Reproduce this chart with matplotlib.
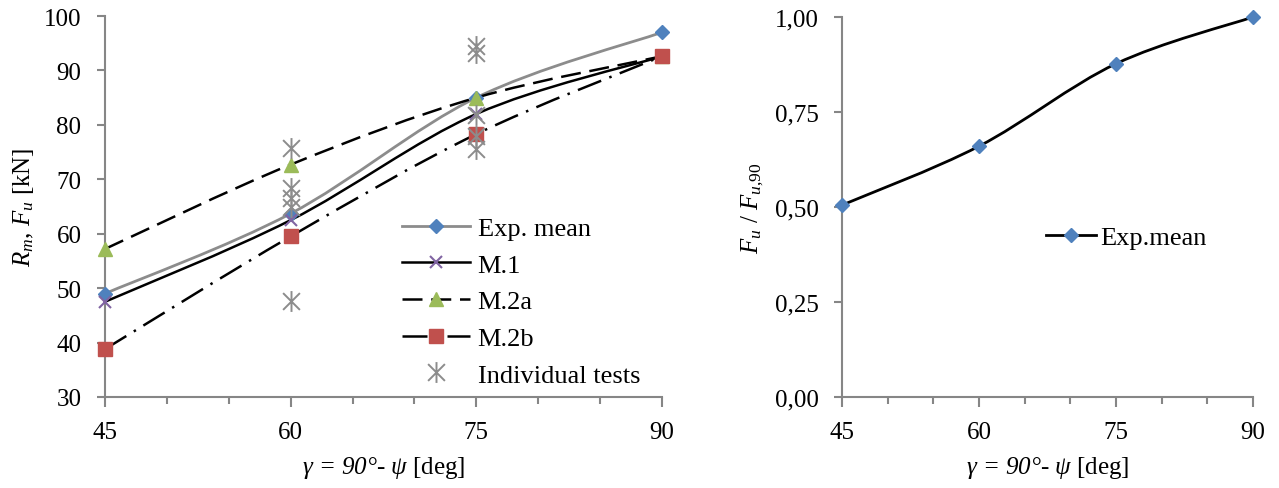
import matplotlib
matplotlib.use("Agg")
import matplotlib.pyplot as plt
from matplotlib.path import Path
from matplotlib.patches import PathPatch
from matplotlib.lines import Line2D
from matplotlib.ticker import MultipleLocator

# ---------------- data ----------------
angles = [45, 60, 75, 90]
exp_mean = [49.0, 63.7, 85.0, 97.0]
m1 = [47.5, 62.5, 82.0, 92.6]
m2a = [57.2, 72.7, 85.0, 92.6]
m2b = [38.8, 59.5, 78.3, 92.6]
ind_x = [60, 60, 60, 60, 60, 75, 75, 75, 75, 75]
ind_y = [75.8, 68.4, 66.6, 65.0, 47.7, 94.5, 93.2, 81.8, 78.0, 75.6]
ratio = [0.505, 0.660, 0.877, 1.00]

left_yticks = [30, 40, 50, 60, 70, 80, 90, 100]
right_yticks = [0.0, 0.25, 0.5, 0.75, 1.0]
right_ylabels = ["0,00", "0,25", "0,50", "0,75", "1,00"]
xticks = [45, 60, 75, 90]

# ---------------- style ----------------
plt.rcParams['font.family'] = ['Liberation Serif', 'DejaVu Serif']
plt.rcParams['mathtext.fontset'] = 'custom'
plt.rcParams['mathtext.rm'] = 'Liberation Serif'
plt.rcParams['mathtext.it'] = 'Liberation Serif:italic'
plt.rcParams['mathtext.bf'] = 'Liberation Serif:bold'
FS = 18
LFS = 19
SPINE = '#868686'
BLUE = '#4f81bd'
GREEN = '#9bbb59'
RED = '#c0504d'
PURPLE = '#8064a2'
GRAY = '#8c8c8c'

# asterisk marker (x with vertical bar)
ast = Path([(-0.5, -0.5), (0.5, 0.5), (-0.5, 0.5), (0.5, -0.5), (0, -0.62), (0, 0.62)],
           [Path.MOVETO, Path.LINETO, Path.MOVETO, Path.LINETO, Path.MOVETO, Path.LINETO])


def smooth(xs, ys):
    n = len(xs)
    verts = [(xs[0], ys[0])]
    codes = [Path.MOVETO]
    for i in range(n - 1):
        a = i - 1 if i > 0 else i
        d = i + 2 if i + 2 < n else i + 1
        c1 = (xs[i] + (xs[i + 1] - xs[a]) / 6.0, ys[i] + (ys[i + 1] - ys[a]) / 6.0)
        c2 = (xs[i + 1] - (xs[d] - xs[i]) / 6.0, ys[i + 1] - (ys[d] - ys[i]) / 6.0)
        verts += [c1, c2, (xs[i + 1], ys[i + 1])]
        codes += [Path.CURVE4] * 3
    return Path(verts, codes)


def style_axes(ax):
    for s in ['top', 'right']:
        ax.spines[s].set_visible(False)
    for s in ['left', 'bottom']:
        ax.spines[s].set_color(SPINE)
        ax.spines[s].set_linewidth(1.5)
    ax.tick_params(axis='both', which='both', direction='out', color=SPINE, width=1.5,
                   labelsize=FS, labelcolor='black')
    ax.tick_params(axis='y', which='major', length=6, pad=11)
    ax.tick_params(axis='x', which='major', length=7, pad=10)
    ax.tick_params(axis='x', which='minor', length=5)
    ax.set_xlim(45, 90)
    ax.set_xticks(xticks)
    ax.xaxis.set_minor_locator(MultipleLocator(5))


XLABEL = 'γ = 90°- ψ $\\mathrm{[deg]}$'

fig = plt.figure(figsize=(12.79, 4.89), dpi=100)
ax1 = fig.add_axes([105 / 1279, 91 / 489, 557 / 1279, 381 / 489])
ax2 = fig.add_axes([842 / 1279, 91 / 489, 411 / 1279, 380 / 489])

# ---------------- left chart ----------------
style_axes(ax1)
ax1.set_ylim(30, 100)
ax1.set_yticks(left_yticks)

ax1.add_patch(PathPatch(smooth(angles, exp_mean), fill=False, edgecolor=GRAY, lw=2.0, zorder=2))
ax1.plot(angles, exp_mean, ls='none', marker='D', ms=7, mfc=BLUE, mec=BLUE, clip_on=False, zorder=3)

ax1.add_patch(PathPatch(smooth(angles, m1), fill=False, edgecolor='black', lw=1.8, zorder=2))
ax1.plot(angles, m1, ls='none', marker='x', ms=9, mew=1.5, color=PURPLE, clip_on=False, zorder=3)

ax1.add_patch(PathPatch(smooth(angles, m2a), fill=False, edgecolor='black', lw=1.8,
                        linestyle=(0, (8, 3.5)), zorder=2))
ax1.plot(angles, m2a, ls='none', marker='^', ms=10, mfc=GREEN, mec=GREEN, clip_on=False, zorder=3)

ax1.add_patch(PathPatch(smooth(angles, m2b), fill=False, edgecolor='black', lw=1.8,
                        linestyle=(0, (10, 3.5, 1, 3.5)), zorder=2))
ax1.plot(angles, m2b, ls='none', marker='s', ms=10, mfc=RED, mec=RED, clip_on=False, zorder=3)

ax1.plot(ind_x, ind_y, ls='none', marker=ast, ms=15, mew=1.4, color=GRAY, mfc='none',
         clip_on=False, zorder=4)

handles = [
    Line2D([], [], color=GRAY, lw=2.0, marker='D', ms=7, mfc=BLUE, mec=BLUE),
    Line2D([], [], color='black', lw=1.8, marker='x', ms=9, mew=1.5, mec=PURPLE),
    Line2D([], [], color='black', lw=1.8, ls=(0, (8, 3.5)), marker='^', ms=10, mfc=GREEN, mec=GREEN),
    Line2D([], [], color='black', lw=1.8, ls=(0, (10, 3.5, 1, 3.5)), marker='s', ms=10, mfc=RED, mec=RED),
    Line2D([], [], ls='none', marker=ast, ms=15, mew=1.4, color=GRAY, mfc='none'),
]
labels = ['Exp. mean', 'M.1', 'M.2a', 'M.2b', 'Individual tests']
ax1.legend(handles, labels, loc='upper left', bbox_to_anchor=(0.534, 0.474), frameon=False,
           fontsize=LFS, handlelength=2.55, handletextpad=0.3, labelspacing=0.5, borderpad=0,
           borderaxespad=0)

ax1.set_ylabel(r'$R_m$, $F_u$ [kN]', fontsize=FS, labelpad=6)
ax1.set_xlabel(XLABEL, fontsize=FS, fontstyle='italic', labelpad=8)

# ---------------- right chart ----------------
style_axes(ax2)
ax2.set_ylim(0, 1.0)
ax2.set_yticks(right_yticks)
ax2.set_yticklabels(right_ylabels)

ax2.add_patch(PathPatch(smooth(angles, ratio), fill=False, edgecolor='black', lw=2.0, zorder=2))
ax2.plot(angles, ratio, ls='none', marker='D', ms=7, mfc=BLUE, mec=BLUE, clip_on=False, zorder=3)

h2 = [Line2D([], [], color='black', lw=2.0, marker='D', ms=7, mfc=BLUE, mec=BLUE)]
ax2.legend(h2, ['Exp.mean'], loc='center left', bbox_to_anchor=(0.497, 0.42), frameon=False,
           fontsize=LFS, handlelength=1.9, handletextpad=0.15, borderpad=0, borderaxespad=0)

ax2.set_ylabel(r'$F_u$ / $F_{u{,}\mathit{90}}$', fontsize=FS, labelpad=6)
ax2.set_xlabel(XLABEL, fontsize=FS, fontstyle='italic', labelpad=8)

fig.savefig('out.png', dpi=100)
